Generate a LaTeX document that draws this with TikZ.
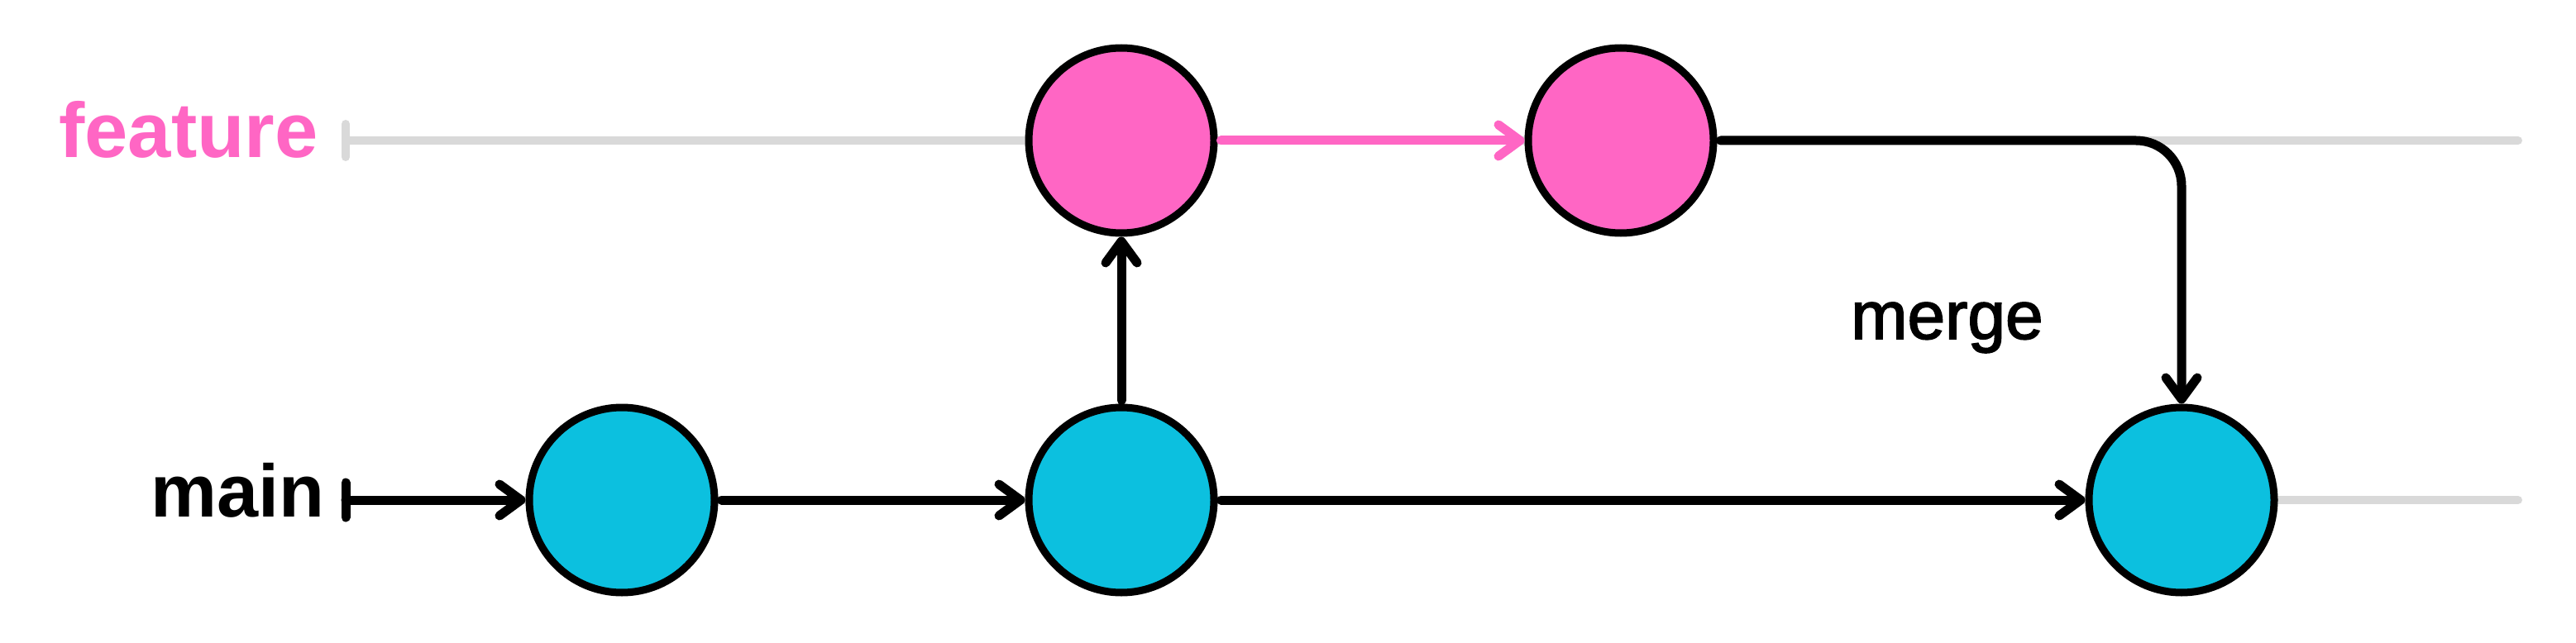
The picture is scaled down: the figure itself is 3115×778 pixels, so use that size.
\documentclass[tikz,border=0pt]{standalone}
\usepackage{fontspec}
\setmainfont{Liberation Sans}
\newfontfamily\mergefont[FakeBold=2]{Liberation Sans}
\usetikzlibrary{arrows.meta}
\definecolor{fpink}{HTML}{FF66C4}
\definecolor{mcyan}{HTML}{0CC0DF}
\definecolor{lgray}{HTML}{D9D9D9}
\tikzset{
  commit/.style={circle, draw=black, line width=9pt, minimum size=224pt, inner sep=0pt},
  fcommit/.style={commit, fill=fpink},
  mcommit/.style={commit, fill=mcyan},
  track/.style={draw=lgray, line width=10pt, line cap=round},
  conn/.style={draw=black, line width=11pt, line cap=round, line join=round,
    -{Straight Barb[length=26pt,width=38pt,round]}},
  pconn/.style={conn, draw=fpink},
  tick/.style={line width=11pt, line cap=round},
  lbl/.style={inner sep=0pt, anchor=base west}
}
\begin{document}
\begin{tikzpicture}[x=1pt,y=-1pt]
\useasboundingbox (0,0) rectangle (3115,778);
% tracks
\coordinate (fs) at (418,170);
\coordinate (fe) at (3045,170);
\coordinate (ms) at (418,605);
\coordinate (me) at (3045,605);
\draw[track] (fs) -- (fe);
\draw[track] (418,150) -- (418,190);
\draw[track] (ms) -- (me);
% commits
\node[mcommit] (m1) at (752,605) {};
\node[mcommit] (m2) at (1356,605) {};
\node[mcommit] (m3) at (2638,605) {};
\node[fcommit] (f1) at (1356,170) {};
\node[fcommit] (f2) at (1960,170) {};
% labels
\node[lbl, text=fpink, font=\bfseries\fontsize{94}{110}\selectfont] (lf) at (71,191) {feature};
\node[lbl, text=black, font=\bfseries\fontsize{90}{110}\selectfont] (lm) at (182,625) {main};
\node[lbl, text=black, font=\mergefont\fontsize{82}{100}\selectfont] (lg) at (2238,410) {merge};
% connectors
\draw[tick, draw=black] (418,584) -- (418,626);
\draw[conn] (ms) -- (m1.west);
\draw[conn, shorten <=4pt] (m1.east) -- (m2.west);
\draw[conn, shorten <=4pt] (m2.east) -- (m3.west);
\draw[conn, shorten <=4pt] (m2.north) -- (f1.south);
\draw[pconn, shorten <=4pt] (f1.east) -- (f2.west);
\draw[conn, shorten <=4pt, rounded corners=55pt] (f2.east) -| (m3.north);
\end{tikzpicture}
\end{document}
